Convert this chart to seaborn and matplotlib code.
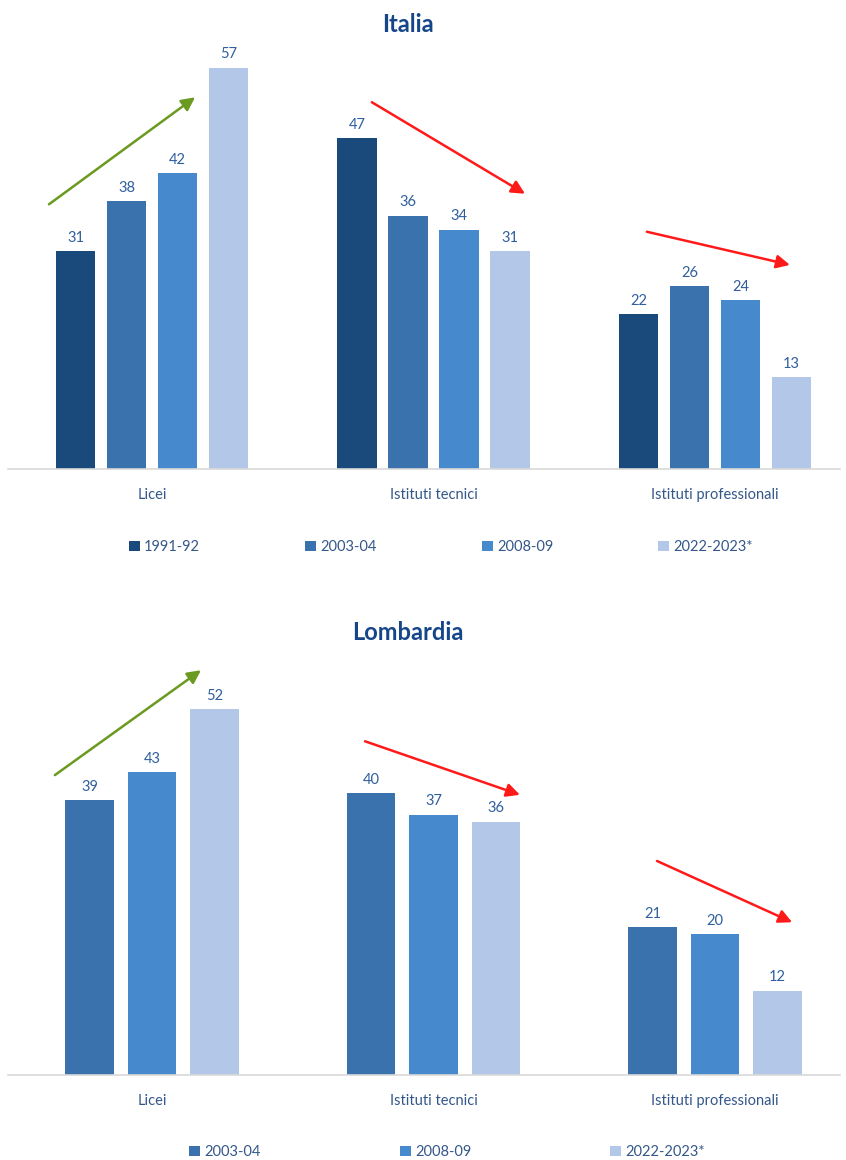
import matplotlib
matplotlib.use("Agg")
import matplotlib.pyplot as plt
import seaborn as sns
import pandas as pd

# Shares of upper-secondary enrolment by school type (%)
categories = ["Licei", "Istituti tecnici", "Istituti professionali"]

years_italia = ["1991-92", "2003-04", "2008-09", "2022-2023*"]
italia_1991 = [31, 47, 22]
italia_2003 = [38, 36, 26]
italia_2008 = [42, 34, 24]
italia_2022 = [57, 31, 13]

years_lombardia = ["2003-04", "2008-09", "2022-2023*"]
lombardia_2003 = [39, 40, 21]
lombardia_2008 = [43, 37, 20]
lombardia_2022 = [52, 36, 12]

palette = {
    "1991-92": "#1a4a7b",
    "2003-04": "#3a72ae",
    "2008-09": "#4689cd",
    "2022-2023*": "#b3c8e8",
}


def long_frame(years, series):
    rows = []
    for year, values in zip(years, series):
        for cat, v in zip(categories, values):
            rows.append({"tipo": cat, "anno": year, "quota": v})
    return pd.DataFrame(rows)


df_it = long_frame(years_italia, [italia_1991, italia_2003, italia_2008, italia_2022])
df_lo = long_frame(years_lombardia, [lombardia_2003, lombardia_2008, lombardia_2022])

sns.set_theme(style="white")
plt.rcParams["font.family"] = ["Lato", "DejaVu Sans"]

W, H = 846, 1160
fig = plt.figure(figsize=(W / 100, H / 100), dpi=100)

TEXT_BLUE = "#2f5f9e"
TICK_BLUE = "#34578a"
TITLE_BLUE = "#16468a"
GREEN = "#6a9a1f"
RED = "#ff1a1a"
YMAX = 61


def panel(rect, df, years, width, title, title_y, arrows, legend_y, legend_x, colspace):
    ax = fig.add_axes(rect)
    sns.barplot(data=df, x="tipo", y="quota", hue="anno", order=categories,
                hue_order=years, palette=palette, saturation=1, width=width,
                gap=0.22, errorbar=None, linewidth=0, ax=ax)
    for cont in ax.containers:
        ax.bar_label(cont, padding=4.5, fontsize=10.5, color=TEXT_BLUE)
    ax.set_xlim(-0.5115, 2.444)
    ax.set_ylim(0, YMAX)
    ax.set_xlabel("")
    ax.set_ylabel("")
    ax.set_yticks([])
    for s in ["top", "left", "right"]:
        ax.spines[s].set_visible(False)
    ax.spines["bottom"].set_color("#d9d9d9")
    ax.spines["bottom"].set_linewidth(1.2)
    ax.tick_params(axis="x", length=0, pad=14, labelsize=10.5, labelcolor=TICK_BLUE)
    for (x0, y0, x1, y1, col) in arrows:
        ax.annotate("", xy=(x1, y1), xytext=(x0, y0),
                    arrowprops=dict(arrowstyle="-|>", color=col, lw=1.8,
                                    mutation_scale=20, shrinkA=0, shrinkB=0),
                    annotation_clip=False)
    fig.text(408 / W, title_y, title, ha="center", va="center", fontsize=17,
             fontweight="bold", color=TITLE_BLUE)
    handles, labels = ax.get_legend_handles_labels()
    ax.legend(handles, labels, loc="center", bbox_to_anchor=(legend_x, legend_y),
              bbox_transform=fig.transFigure, ncol=len(years), frameon=False,
              handlelength=0.75, handleheight=0.75, handletextpad=0.3,
              columnspacing=colspace, fontsize=10.5, labelcolor=TICK_BLUE)
    return ax


h = YMAX * 7.04 / H
left, width = 8 / W, 832 / W

panel([left, (H - 469) / H, width, h], df_it, years_italia, 0.725, "Italia",
      1 - 25 / H,
      [(-0.366, 37.6, 0.153, 52.8, GREEN),
       (0.781, 52.1, 1.325, 39.1, RED),
       (1.758, 33.7, 2.266, 29.0, RED)],
      1 - 547 / H, 441 / W, 7.2)

panel([left, (H - 1075) / H, width, h], df_lo, years_lombardia, 0.666, "Lombardia",
      1 - 632 / H,
      [(-0.345, 42.6, 0.174, 57.5, GREEN),
       (0.757, 47.4, 1.307, 39.8, RED),
       (1.794, 30.4, 2.274, 21.7, RED)],
      1 - 1152 / H, 447 / W, 9.5)

fig.savefig("out.png", dpi=100, facecolor="white")
